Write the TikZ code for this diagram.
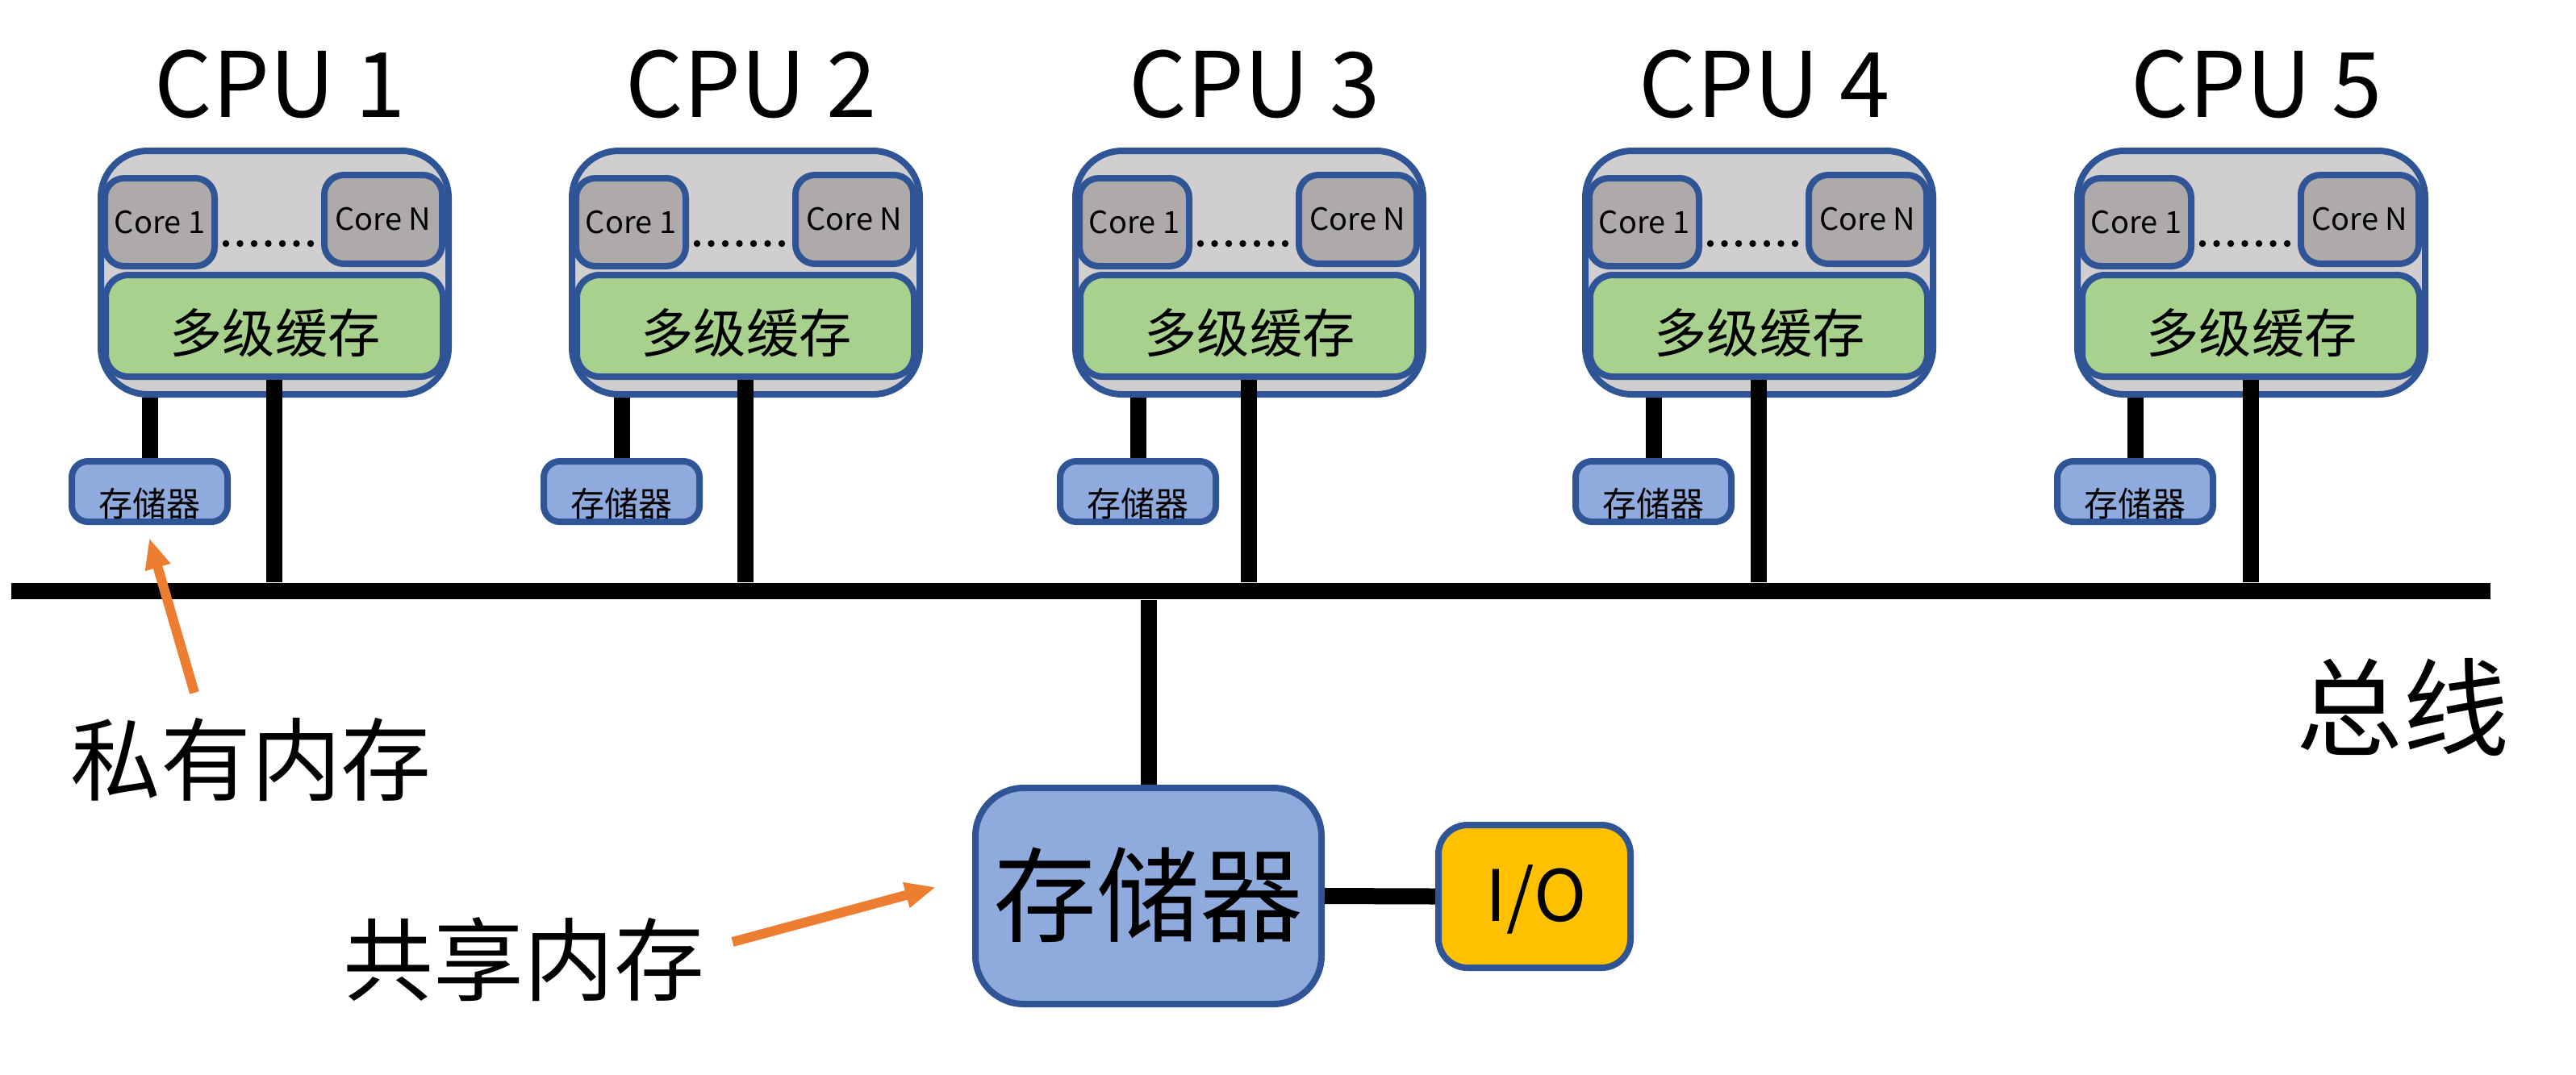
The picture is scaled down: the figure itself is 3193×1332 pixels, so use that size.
\documentclass[tikz,border=0pt]{standalone}
\usepackage{fontspec}
\setmainfont{Noto Sans CJK SC}
\usetikzlibrary{arrows.meta}
\definecolor{bordblue}{HTML}{2F5597}
\definecolor{outergray}{HTML}{D0CECE}
\definecolor{coregray}{HTML}{AEAAAA}
\definecolor{cachegreen}{HTML}{A9D18E}
\definecolor{memblue}{HTML}{8FAADC}
\definecolor{ioyellow}{HTML}{FFC000}
\definecolor{calloutorange}{HTML}{ED7D31}
\begin{document}
\begin{tikzpicture}[x=0.25pt,y=-0.25pt,
  box/.style={draw=bordblue, line width=2pt, inner sep=0pt},
  outerbox/.style={box, fill=outergray, rounded corners=14.5pt, minimum width=431*0.25pt, minimum height=302*0.25pt},
  corebox/.style={box, fill=coregray, rounded corners=6pt, minimum height=110*0.25pt, font=\fontsize{9.5pt}{11pt}\selectfont},
  cachebox/.style={box, fill=cachegreen, rounded corners=7pt, minimum width=418*0.25pt, minimum height=126*0.25pt},
  pmembox/.style={box, fill=memblue, rounded corners=5pt, minimum width=193*0.25pt, minimum height=75*0.25pt},
  cputitle/.style={inner sep=0pt, font=\fontsize{28pt}{32pt}\selectfont},
  cachetext/.style={inner sep=0pt, font=\fontsize{16.3pt}{18pt}\selectfont},
  pmemtext/.style={inner sep=0pt, font=\fontsize{10.5pt}{12pt}\selectfont},
  bigtext/.style={inner sep=0pt, font=\fontsize{28pt}{32pt}\selectfont},
  conn/.style={line width=5pt, black},
  callout/.style={draw=calloutorange, line width=3pt, -{Triangle[length=9.5pt,width=7.5pt]}}
]
\useasboundingbox (0,0) rectangle (3193,1332);

% bus
\node[fill=black, inner sep=0pt, minimum width=3073*0.25pt, minimum height=20*0.25pt] (bus) at (1550.5,733) {};
\node[bigtext, font=\fontsize{33pt}{36pt}\selectfont] (bustext) at (2978,877) {总线};

\foreach \i/\L/\P in {1/121/85, 2/705/670, 3/1329/1310, 4/1961/1949, 5/2571/2546} {
  \node[cputitle] (title\i) at ({\L+226},104) {CPU \i};
  \node[outerbox] (cpu\i) at ({\L+219.5},338) {};
  \node[corebox, minimum width=136*0.25pt, minimum height=109*0.25pt] (corea\i) at ({\L+77},275.5) {Core 1};
  \node[corebox, minimum width=146*0.25pt] (coren\i) at ({\L+354},272) {Core N};
  \node[cachebox] (cache\i) at ({\L+219},404) {};
  \node[cachetext] (cachet\i) at ({\L+220},413) {多级缓存};
  \foreach \k in {0,...,6} {
    \fill ({\L+159+\k*17.5},302) circle[radius=4.2];
  }
  \node[pmembox] (pmem\i) at ({\P+100.5},609.5) {};
  \node[pmemtext] (pmemt\i) at ({\P+100.5},624) {存储器};
  \draw[conn] (cache\i.south) -- (cache\i.south |- bus.north);
  \draw[conn] (pmem\i.north) -- (pmem\i.north |- cpu\i.south);
}

% shared memory and I/O
\node[box, fill=memblue, rounded corners=15pt, minimum width=429*0.25pt, minimum height=268*0.25pt] (smem) at (1423.5,1111) {};
\node[bigtext, font=\fontsize{32pt}{36pt}\selectfont] (smemt) at (1423,1110) {存储器};
\node[box, fill=ioyellow, rounded corners=9pt, minimum width=238*0.25pt, minimum height=177*0.25pt] (io) at (1902,1111.5) {};
\node[inner sep=0pt, font=\fontsize{22pt}{26pt}\selectfont] (iot) at (1904,1115) {I/O};
\draw[conn] (smem.north) -- (smem.north |- bus.south);
\draw[conn] (smem.east) -- (io.west);

% callouts
\node[bigtext] (privlabel) at (311,942) {私有内存};
\node[bigtext] (sharelabel) at (649,1190) {共享内存};
\coordinate (a1s) at (241,859);
\coordinate (a1e) at (185,667);
\coordinate (a2s) at (908,1168);
\coordinate (a2e) at (1160,1100);
\draw[callout] (a1s) -- (a1e);
\draw[callout] (a2s) -- (a2e);
\end{tikzpicture}
\end{document}
